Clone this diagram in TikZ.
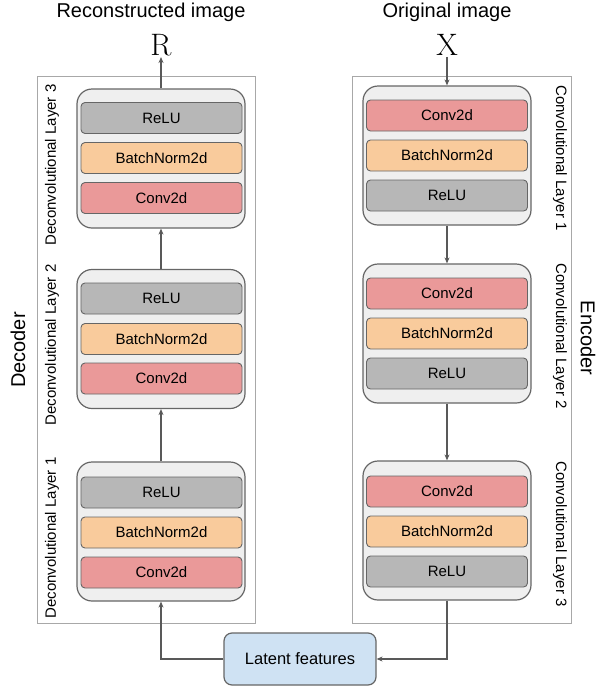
\documentclass[tikz,border=0pt]{standalone}
\usepackage{fontspec}
\newfontfamily\arial{Liberation Sans}
\usetikzlibrary{arrows.meta}
\definecolor{relu}{HTML}{B7B7B7}
\definecolor{bnorm}{HTML}{F9CB9C}
\definecolor{conv}{HTML}{EA9999}
\definecolor{blockfill}{HTML}{EFEFEF}
\definecolor{latent}{HTML}{CFE2F3}
\definecolor{edgec}{HTML}{666666}
\definecolor{framec}{HTML}{A8A8A8}
\definecolor{arrc}{HTML}{595959}
\begin{document}
\begin{tikzpicture}[x=1pt,y=-1pt,
  outer/.style={draw=framec, line width=1pt},
  block/.style={draw=edgec, fill=blockfill, rounded corners=15pt, line width=1.2pt,
    minimum width=168pt, minimum height=139pt, inner sep=0pt},
  bar/.style={draw=edgec, rounded corners=4pt, line width=0.9pt,
    minimum width=161pt, minimum height=31pt, inner sep=0pt,
    font=\arial\fontsize{15}{15}\selectfont},
  relubar/.style={bar, fill=relu},
  bnbar/.style={bar, fill=bnorm},
  convbar/.style={bar, fill=conv},
  layerlab/.style={font=\arial\fontsize{15}{15}\selectfont, inner sep=0pt},
  sidelab/.style={font=\arial\fontsize{20}{20}\selectfont, inner sep=0pt},
  toplab/.style={font=\arial\fontsize{20}{20}\selectfont, inner sep=0pt},
  mathlab/.style={font=\fontsize{31}{31}\selectfont, inner sep=1pt},
  arr/.style={draw=arrc, line width=1.1pt, -{Stealth[length=6pt,width=5pt]}}
]
\useasboundingbox (0,0) rectangle (600,689);

% outer frames
\draw[outer] (37,76) rectangle (255,623);
\draw[outer] (352,76) rectangle (571,623);

% top labels
\node[toplab] (rtxt) at (151,12) {Reconstructed image};
\node[toplab] (otxt) at (447,12) {Original image};
\node[mathlab] (R) at (161,45) {R};
\node[mathlab] (X) at (447,45) {X};

% decoder blocks
\node[block] (d3) at (161,158.5) {};
\node[relubar] (d3a) at (161.5,118) {ReLU};
\node[bnbar]   (d3b) at (161.5,158) {BatchNorm2d};
\node[convbar] (d3c) at (161.5,198) {Conv2d};

\node[block] (d2) at (161,339) {};
\node[relubar] (d2a) at (161.5,298.5) {ReLU};
\node[bnbar]   (d2b) at (161.5,339) {BatchNorm2d};
\node[convbar] (d2c) at (161.5,378.5) {Conv2d};

\node[block] (d1) at (161,531.5) {};
\node[relubar] (d1a) at (161.5,492.5) {ReLU};
\node[bnbar]   (d1b) at (161.5,532.5) {BatchNorm2d};
\node[convbar] (d1c) at (161.5,572.5) {Conv2d};

% encoder blocks
\node[block] (e1) at (447,155.5) {};
\node[convbar] (e1a) at (447,115.5) {Conv2d};
\node[bnbar]   (e1b) at (447,155.5) {BatchNorm2d};
\node[relubar] (e1c) at (447,195.5) {ReLU};

\node[block] (e2) at (447,333.5) {};
\node[convbar] (e2a) at (447,293.5) {Conv2d};
\node[bnbar]   (e2b) at (447,333.5) {BatchNorm2d};
\node[relubar] (e2c) at (447,373.5) {ReLU};

\node[block] (e3) at (447,530.5) {};
\node[convbar] (e3a) at (447,491.5) {Conv2d};
\node[bnbar]   (e3b) at (447,531.5) {BatchNorm2d};
\node[relubar] (e3c) at (447,571.5) {ReLU};

% latent
\node[draw=edgec, fill=latent, rounded corners=8pt, line width=1.2pt,
  minimum width=152pt, minimum height=52pt, inner sep=0pt,
  font=\arial\fontsize{16.5}{16.5}\selectfont] (lat) at (300,659) {Latent features};

% layer labels
\node[layerlab, rotate=90] (ld3) at (52,165) {Deconvolutional Layer 3};
\node[layerlab, rotate=90] (ld2) at (52,345) {Deconvolutional Layer 2};
\node[layerlab, rotate=90] (ld1) at (52,538) {Deconvolutional Layer 1};
\node[layerlab, rotate=-90] (le1) at (560,158) {Convolutional Layer 1};
\node[layerlab, rotate=-90] (le2) at (560,336) {Convolutional Layer 2};
\node[layerlab, rotate=-90] (le3) at (560,534) {Convolutional Layer 3};

\node[sidelab, rotate=90] (dec) at (18,350) {Decoder};
\node[sidelab, rotate=-90] (enc) at (588,338) {Encoder};

% connectors
\draw[arr] (d1.north) -- (d2.south);
\draw[arr] (d2.north) -- (d3.south);
\draw[arr] (d3.north) -- (R.south);
\draw[arr] (X.south) -- (e1.north);
\draw[arr] (e1.south) -- (e2.north);
\draw[arr] (e2.south) -- (e3.north);
\draw[arr] (lat.west) -| (d1.south);
\draw[arr] (e3.south) |- (lat.east);
\end{tikzpicture}
\end{document}
